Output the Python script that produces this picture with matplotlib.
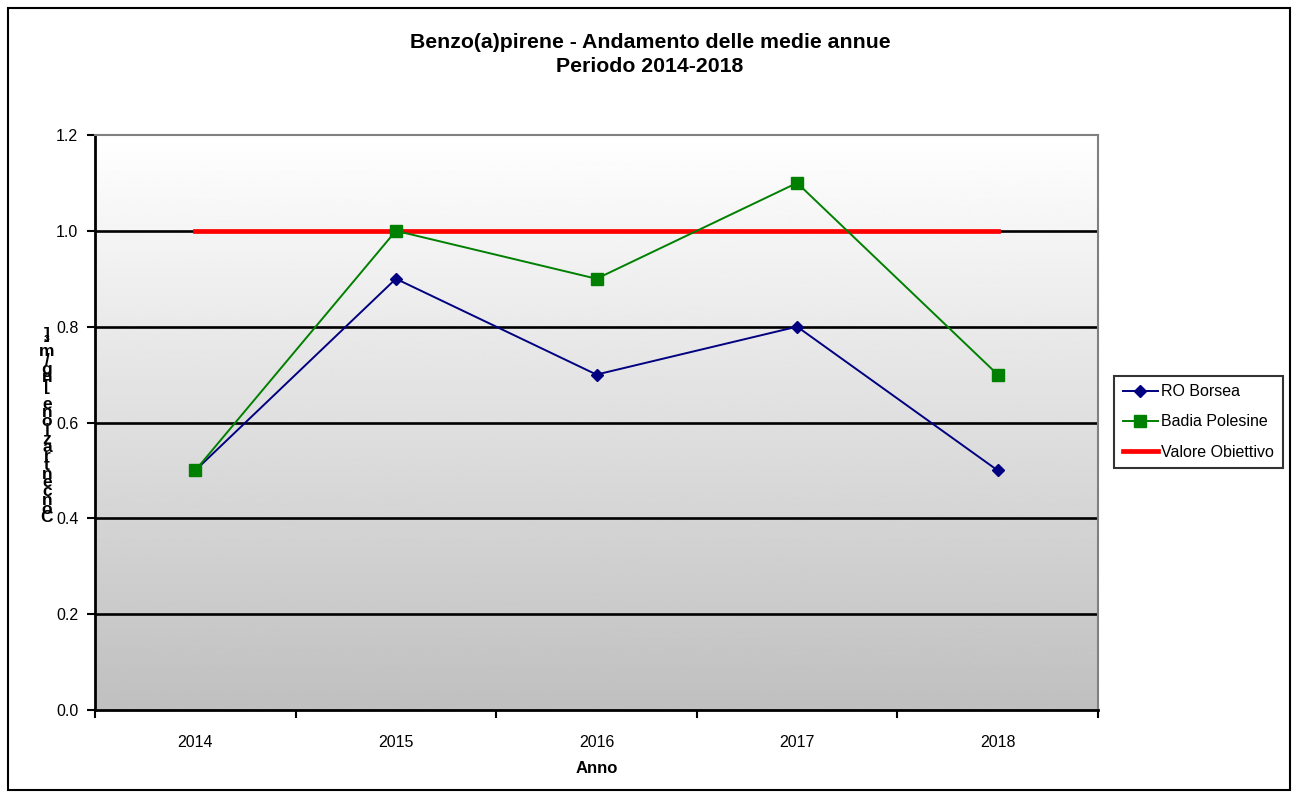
import numpy as np
import matplotlib
matplotlib.use("Agg")
import matplotlib.pyplot as plt
from matplotlib.patches import Rectangle

# ---------------- data ----------------
anni = ["2014", "2015", "2016", "2017", "2018"]
ro_borsea = [0.5, 0.9, 0.7, 0.8, 0.5]
badia_polesine = [0.5, 1.0, 0.9, 1.1, 0.7]
valore_obiettivo = [1.0, 1.0, 1.0, 1.0, 1.0]
y_ticks = [0.0, 0.2, 0.4, 0.6, 0.8, 1.0, 1.2]

plt.rcParams['font.family'] = ['Liberation Sans', 'DejaVu Sans']

fig = plt.figure(figsize=(12.92, 7.92), dpi=100)
ax = fig.add_axes([95 / 1292, 1 - 710 / 792, 1003 / 1292, 575 / 792])

x = np.arange(len(anni))

# gradient background (white at top -> grey at bottom)
grad = np.linspace(1.0, 0.75, 256).reshape(-1, 1)
ax.imshow(grad, cmap='gray', vmin=0, vmax=1, aspect='auto',
          extent=(-0.5, 4.5, 0, 1.2), origin='upper', zorder=0)

# gridlines
for yv in y_ticks[1:-1]:
    ax.axhline(yv, color='black', lw=1.9, zorder=1)

ax.plot(x, valore_obiettivo, color='#ff0000', lw=3.4, label='Valore Obiettivo', zorder=2)
ax.plot(x, ro_borsea, color='#000080', lw=1.4, marker='D', ms=6.5,
        label='RO Borsea', zorder=3)
ax.plot(x, badia_polesine, color='#008000', lw=1.4, marker='s', ms=8.5,
        label='Badia Polesine', zorder=4)

ax.set_xlim(-0.5, 4.5)
ax.set_ylim(0, 1.2)
ax.set_yticks(y_ticks)
ax.set_yticklabels([f"{v:.1f}" for v in y_ticks], fontsize=11.5)
ax.set_xticks(np.arange(-0.5, 5, 1))
ax.set_xticklabels([])
ax.set_xticks(x, minor=True)
ax.set_xticklabels(anni, minor=True, fontsize=11.5)
ax.tick_params(axis='x', which='minor', length=0, pad=18)
ax.tick_params(axis='x', which='major', length=6, width=1.5, direction='out')
ax.tick_params(axis='y', length=6, width=1.5, direction='out', pad=6)

for side in ['left', 'bottom']:
    ax.spines[side].set_linewidth(2)
    ax.spines[side].set_color('black')
for side in ['top', 'right']:
    ax.spines[side].set_linewidth(1.5)
    ax.spines[side].set_color('#808080')

ax.set_xlabel("Anno", fontsize=12, fontweight='bold', labelpad=8)

# stacked (upright) y-axis label as in the original
ylab = "\n".join(reversed("Concentrazione [ng/m³]"))
fig.text(47 / 1292, 1 - 426 / 792, ylab, fontsize=12.5, fontweight='bold',
         ha='center', va='center', linespacing=0.48)

fig.text(0.503, 1 - 42 / 792, "Benzo(a)pirene - Andamento delle medie annue",
         fontsize=15.3, fontweight='bold', ha='center', va='center')
fig.text(0.503, 1 - 67 / 792, "Periodo 2014-2018",
         fontsize=15.3, fontweight='bold', ha='center', va='center')

handles, labels = ax.get_legend_handles_labels()
order = [1, 2, 0]
leg = fig.legend([handles[i] for i in order], [labels[i] for i in order],
                 loc='center left', bbox_to_anchor=(1114 / 1292, 1 - 422 / 792),
                 fontsize=11.5, frameon=True, fancybox=False, handlelength=2.2,
                 handletextpad=0.2, borderpad=0.55, labelspacing=0.95,
                 borderaxespad=0)
leg.get_frame().set_edgecolor('black')
leg.get_frame().set_linewidth(1.5)

# outer frame
fig.patches.append(Rectangle((8 / 1292, 2 / 792), 1282 / 1292, 782 / 792,
                             transform=fig.transFigure, fill=False,
                             edgecolor='black', lw=1.5))

fig.savefig("out.png", dpi=100)
